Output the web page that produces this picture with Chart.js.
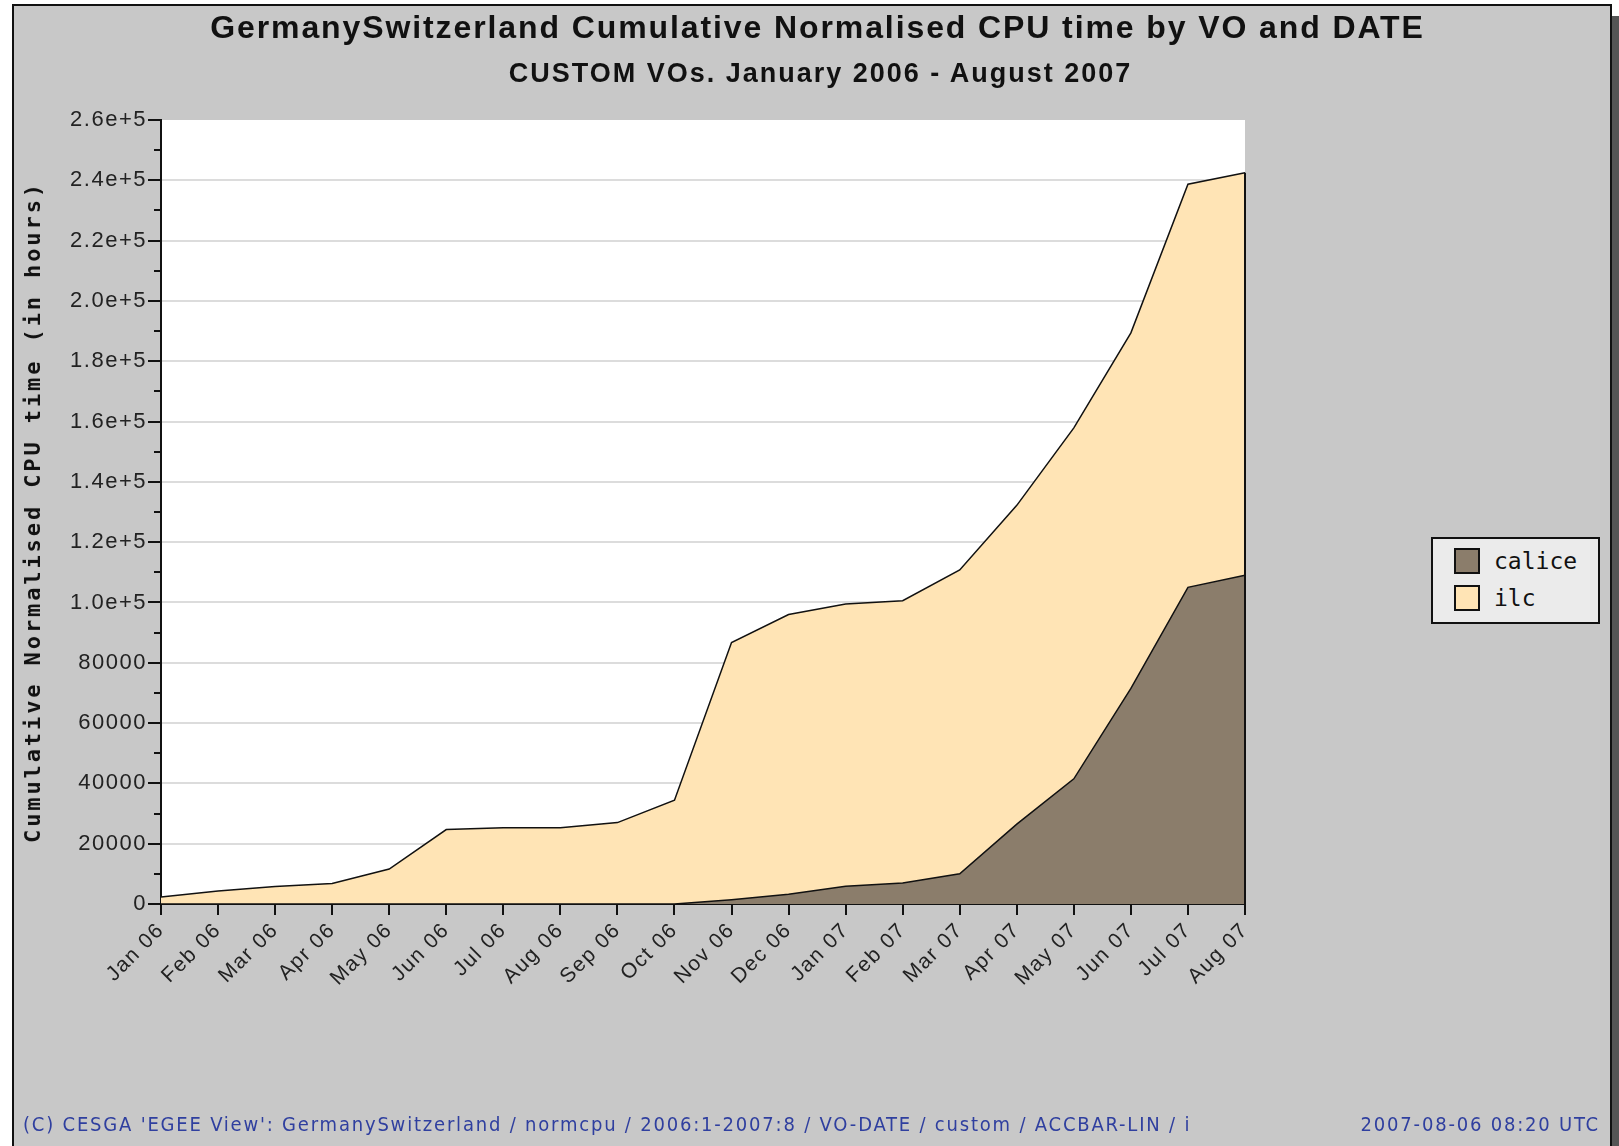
<!DOCTYPE html>
<html>
<head>
<meta charset="utf-8">
<script src="https://cdn.jsdelivr.net/npm/chart.js@4.4.1/dist/chart.umd.min.js"></script>
<style>
    html, body { margin: 0; padding: 0; background: #fff; width: 1619px; height: 1146px; overflow: hidden; }
    .frame {
        position: absolute; left: 12px; top: 4px; width: 1596px; height: 1170px;
        background: #c8c8c8; border: 2px solid #111; box-shadow: 7px 12px 0 #555;
    }
    #chart { position: absolute; left: 0; top: 0; }
    .title, .subtitle {
        position: absolute; left: 8px; width: 1619px; text-align: center;
        font-family: 'Liberation Sans', Arial, sans-serif; font-weight: bold; color: #111; white-space: nowrap;
    }
    .title { top: 11px; font-size: 32px; line-height: 32px; letter-spacing: 1.9px; }
    .subtitle { top: 60px; font-size: 27px; line-height: 27px; letter-spacing: 2px; left: 11px; }
    .ytitle {
        position: absolute; left: 33px; top: 512px; white-space: nowrap;
        transform: translate(-50%, -50%) rotate(-90deg);
        font-family: 'DejaVu Sans Mono', monospace; font-weight: bold; font-size: 22px; line-height: 22px;
        letter-spacing: 2.9px; color: #111;
    }
    .legend {
        position: absolute; left: 1431px; top: 537px; width: 165px; height: 83px;
        background: #ebebeb; border: 2px solid #111;
        font-family: 'DejaVu Sans Mono', monospace; font-size: 23px; color: #111;
    }
    .legend .item { position: absolute; left: 21px; height: 26px; line-height: 26px; white-space: nowrap; }
    .legend .sw { display: inline-block; width: 22px; height: 22px; border: 2px solid #111; vertical-align: top; margin-right: 14px; }
    .footer {
        position: absolute; top: 1112px; font-family: 'DejaVu Sans Condensed', 'DejaVu Sans', sans-serif;
        font-size: 20px; line-height: 24px; color: #2f3f9f; white-space: nowrap; letter-spacing: 1.8px;
    }
</style>
</head>
<body>
<div class="frame"></div>
<canvas id="chart" width="1619" height="1146"></canvas>
<div class="title">GermanySwitzerland Cumulative Normalised CPU time by VO and DATE</div>
<div class="subtitle">CUSTOM VOs. January 2006 - August 2007</div>
<div class="ytitle">Cumulative Normalised CPU time (in hours)</div>
<div class="legend" id="legend"></div>
<div class="footer" style="left: 23px;">(C) CESGA 'EGEE View': GermanySwitzerland / normcpu / 2006:1-2007:8 / VO-DATE / custom / ACCBAR-LIN / i</div>
<div class="footer" style="right: 19px;">2007-08-06 08:20 UTC</div>
<script>
const months = ['Jan 06', 'Feb 06', 'Mar 06', 'Apr 06', 'May 06', 'Jun 06', 'Jul 06', 'Aug 06', 'Sep 06', 'Oct 06',
    'Nov 06', 'Dec 06', 'Jan 07', 'Feb 07', 'Mar 07', 'Apr 07', 'May 07', 'Jun 07', 'Jul 07', 'Aug 07'];

// cumulative hours, stacked: calice at the bottom, ilc on top
const calice = [0, 0, 0, 0, 0, 0, 0, 0, 0, 0,
    1400, 3200, 5900, 7000, 10000, 26500, 41500, 71500, 105000, 109000];
const ilc = [2300, 4300, 5800, 6800, 11600, 24700, 25300, 25300, 27000, 34400,
    85300, 92800, 93600, 93600, 100800, 105700, 116400, 117900, 133700, 133500];

const yMax = 260000;
const yStep = 20000;
const yMinorStep = 10000;

const colors = {
    calice: '#8b7d6b',
    ilc: '#ffe4b5',
    grid: '#dcdcdc',
    ink: '#111',
};

const legendItems = [
    { label: 'calice', color: colors.calice },
    { label: 'ilc', color: colors.ilc },
];

function fmtTick(v) {
    if (v >= 100000) {
        return (v / 100000).toFixed(1) + 'e+5';
    }
    return String(v);
}

const legendEl = document.getElementById('legend');
legendItems.forEach((it, i) => {
    const row = document.createElement('div');
    row.className = 'item';
    row.style.top = (9 + i * 37) + 'px';
    row.innerHTML = `<span class="sw" style="background:${it.color}"></span>${it.label}`;
    legendEl.appendChild(row);
});

const spacing = {
    id: 'spacing',
    afterInit(chart) { chart.ctx.letterSpacing = '1.5px'; },
    beforeUpdate(chart) { chart.ctx.letterSpacing = '1.5px'; },
    beforeDraw(chart) {
        const { ctx, chartArea } = chart;
        ctx.letterSpacing = '1.5px';
        ctx.save();
        ctx.fillStyle = '#fff';
        ctx.fillRect(chartArea.left, chartArea.top, chartArea.right - chartArea.left, chartArea.bottom - chartArea.top);
        ctx.restore();
    },
};

const axisTicks = {
    id: 'axisTicks',
    afterDraw(chart) {
        const { ctx, chartArea, scales } = chart;
        const x = scales.x;
        const y = scales.y;
        ctx.save();
        ctx.strokeStyle = colors.ink;
        ctx.lineWidth = 2;
        ctx.beginPath();
        for (let v = 0; v <= yMax; v += yMinorStep) {
            const py = Math.round(y.getPixelForValue(v));
            const len = v % yStep === 0 ? 13 : 7;
            ctx.moveTo(chartArea.left, py);
            ctx.lineTo(chartArea.left - len, py);
        }
        months.forEach((m, i) => {
            const px = Math.round(x.getPixelForValue(i));
            ctx.moveTo(px, chartArea.bottom);
            ctx.lineTo(px, chartArea.bottom + 11);
        });
        // right edge of the stacked area
        const last = months.length - 1;
        const px = x.getPixelForValue(last);
        ctx.moveTo(px, chartArea.bottom);
        ctx.lineTo(px, y.getPixelForValue(calice[last] + ilc[last]));
        ctx.stroke();
        ctx.restore();
    },
};

new Chart(document.getElementById('chart'), {
    type: 'line',
    data: {
        labels: months,
        datasets: [
            {
                label: 'calice',
                data: calice,
                backgroundColor: colors.calice,
                borderColor: colors.ink,
                borderWidth: 1.5,
                fill: 'origin',
                pointRadius: 0,
                tension: 0,
            },
            {
                label: 'ilc',
                data: ilc,
                backgroundColor: colors.ilc,
                borderColor: colors.ink,
                borderWidth: 1.5,
                fill: '-1',
                pointRadius: 0,
                tension: 0,
            },
        ],
    },
    options: {
        responsive: false,
        animation: false,
        devicePixelRatio: 1,
        layout: { padding: { left: 0, top: 120, right: 374, bottom: 132 } },
        plugins: {
            legend: { display: false },
            title: { display: false },
            tooltip: { enabled: false },
        },
        scales: {
            x: {
                offset: false,
                grid: { display: false, drawTicks: false },
                border: { color: colors.ink, width: 2 },
                ticks: {
                    minRotation: 45,
                    maxRotation: 45,
                    padding: 14,
                    color: '#222',
                    font: { family: 'Liberation Sans', size: 21 },
                    autoSkip: false,
                },
                afterFit: (scale) => { scale.height = 110; },
            },
            y: {
                stacked: true,
                min: 0,
                max: yMax,
                grid: {
                    drawTicks: false,
                    color: (c) => (c.tick && c.tick.value > 0 && c.tick.value < yMax ? colors.grid : 'rgba(0,0,0,0)'),
                    lineWidth: 2,
                },
                border: { color: colors.ink, width: 2 },
                ticks: {
                    stepSize: yStep,
                    padding: 14,
                    color: '#222',
                    font: { family: 'Liberation Sans', size: 22 },
                    callback: (v) => fmtTick(v),
                },
                afterFit: (scale) => { scale.width = 161; },
            },
        },
    },
    plugins: [spacing, axisTicks],
});
</script>
</body>
</html>
